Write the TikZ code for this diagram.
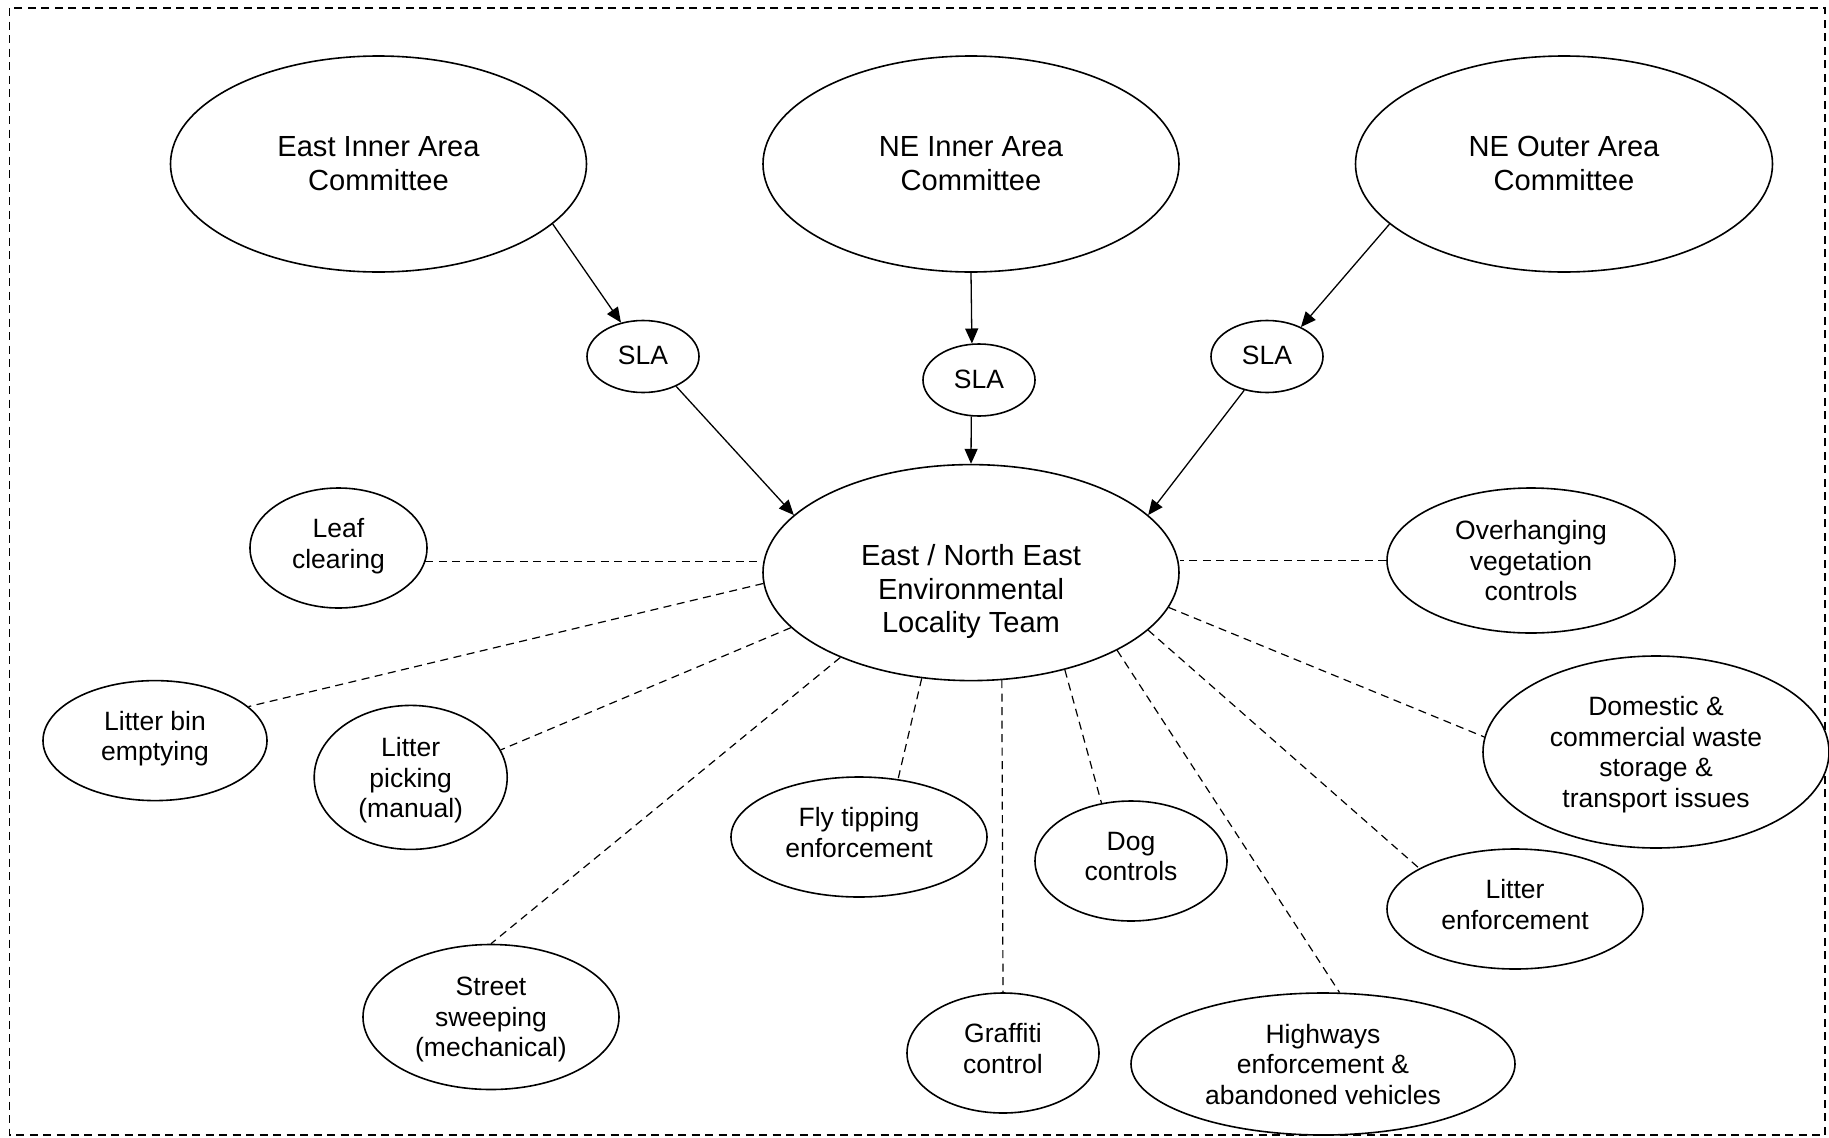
\documentclass[tikz,border=0pt]{standalone}
\usepackage{fontspec}
\setmainfont{Liberation Sans}
\usetikzlibrary{arrows.meta,shapes.geometric}
\definecolor{ink}{HTML}{000000}
\tikzset{
  bub/.style={ellipse,draw=ink,line width=1.6pt,fill=white,inner sep=0pt,align=center,text=ink,font=\fontsize{26.5}{30.5}\selectfont},
  bubl/.style={bub,font=\fontsize{29.1}{33.8}\selectfont},
  plain/.style={align=center,text=ink,font=\fontsize{29.1}{33.8}\selectfont},
  onel/.style={text depth=2pt},
  twol/.style={text depth=9.3pt},
  threel/.style={text depth=-13pt},
  ar/.style={-{Triangle[length=15pt,width=13pt]},draw=ink,line width=1.3pt},
  lnk/.style={draw=ink,line width=1.2pt,dash pattern=on 8pt off 5.5pt},
  borderbox/.style={draw=ink,line width=1.2pt,dash pattern=on 8pt off 5.5pt},
}
\begin{document}
\begin{tikzpicture}[x=1pt,y=-1pt]
  \useasboundingbox (0,0) rectangle (1829,1138);
  \draw[borderbox] (9.5,8) rectangle (1825,1135);

  \node[bubl,text depth=1.4pt,minimum width=416pt,minimum height=216pt] (eic) at (378.5,164) {East Inner Area\\Committee};
  \node[bubl,text depth=1.4pt,minimum width=416pt,minimum height=216pt] (nic) at (971,164) {NE Inner Area\\Committee};
  \node[bubl,text depth=1.4pt,minimum width=417pt,minimum height=216pt] (noc) at (1564,164) {NE Outer Area\\Committee};

  \node[bub,onel,minimum width=112pt,minimum height=72pt] (sla1) at (643,356.5) {SLA};
  \node[bub,onel,minimum width=112pt,minimum height=72pt] (sla2) at (979,380) {SLA};
  \node[bub,onel,minimum width=112pt,minimum height=72pt] (sla3) at (1267,356.5) {SLA};

  \node[bub,minimum width=416pt,minimum height=216pt] (team) at (971,572.6) {};
  \node[plain] (teamtext) at (971,591.5) {East / North East\\Environmental\\Locality Team};

  \node[bub,twol,minimum width=177pt,minimum height=120pt] (leaf) at (338.5,548) {Leaf\\clearing};
  \node[bub,threel,minimum width=288pt,minimum height=145pt] (over) at (1531,560.5) {Overhanging\\vegetation\\controls};
  \node[bub,twol,minimum width=224pt,minimum height=120pt] (bin) at (155,740.6) {Litter bin\\emptying};
  \node[bub,threel,minimum width=193pt,minimum height=144pt] (pick) at (410.7,777.4) {Litter\\picking\\(manual)};
  \node[bub,threel,minimum width=256pt,minimum height=145pt] (sweep) at (491,1017) {Street\\sweeping\\(mechanical)};
  \node[bub,twol,minimum width=256pt,minimum height=120pt] (fly) at (859,837) {Fly tipping\\enforcement};
  \node[bub,twol,minimum width=192pt,minimum height=120pt] (graf) at (1003,1053) {Graffiti\\control};
  \node[bub,twol,minimum width=192pt,minimum height=120pt] (dog) at (1131,861) {Dog\\controls};
  \node[bub,threel,minimum width=384pt,minimum height=142pt] (high) at (1323,1064) {Highways\\enforcement \&\\abandoned vehicles};
  \node[bub,twol,minimum width=256pt,minimum height=120pt] (litenf) at (1515,909) {Litter\\enforcement};
  \node[bub,text depth=-6pt,minimum width=346pt,minimum height=192pt] (dom) at (1656,752) {Domestic \&\\commercial waste\\storage \&\\transport issues};

  \draw[ar] (eic.341.2) -- (sla1.123.3);
  \draw[ar] (sla1.318.4) -- (team.162.5);
  \draw[ar] (nic.south) -- (sla2.101.9);
  \draw[ar] (sla2.258.1) -- (team.north);
  \draw[ar] (noc.199.1) -- (sla3.41);
  \draw[ar] (sla3.236.4) -- (team.18.9);

  \draw[lnk] (leaf.351.9) -- (leaf.351.9 -| team.west);
  \draw[lnk] (over.west) -- (over.west -| team.east);
  \draw[lnk] (team.183.4) -- (bin.20.6);
  \draw[lnk] (team.197.5) -- (pick.17.9);
  \draw[lnk] (team.213.5) -- (sweep.north);
  \draw[lnk] (team.245.9) -- (fly.56.9);
  \draw[lnk] (team.286.5) -- (graf.north);
  \draw[lnk] (team.314) -- (dog.117.1);
  \draw[lnk] (team.332.5) -- (high.77.8);
  \draw[lnk] (team.342.6) -- (litenf.157.4);
  \draw[lnk] (team.350.1) -- (dom.175.3);
\end{tikzpicture}
\end{document}
